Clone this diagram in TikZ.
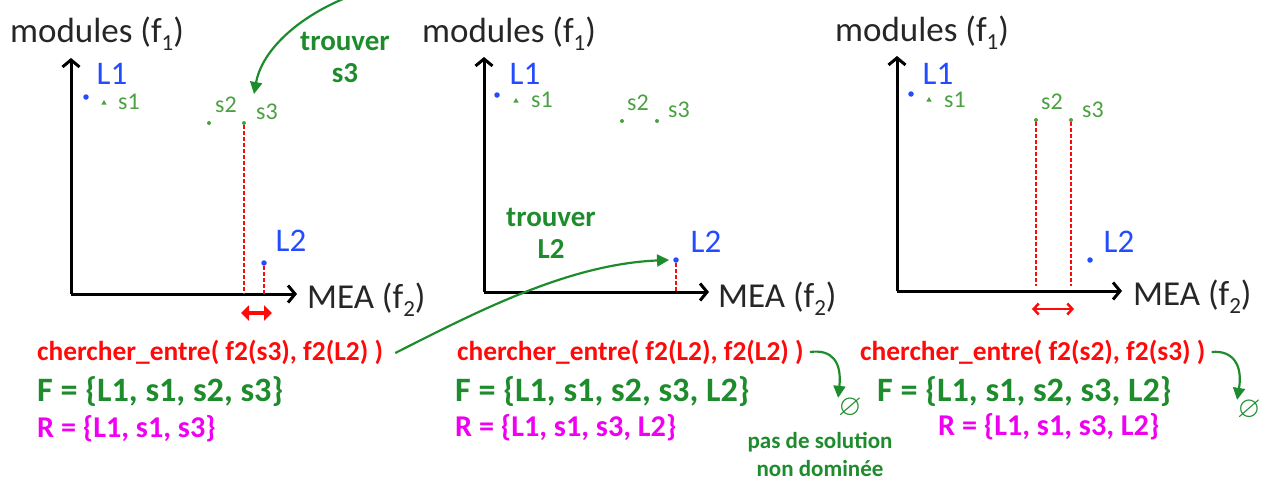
\documentclass[tikz,border=0pt]{standalone}
\usepackage{fontspec}
\setmainfont{Carlito}
\usepackage{amssymb}
\usepackage{graphicx}
\usetikzlibrary{arrows.meta,shapes.geometric}
\definecolor{myblue}{RGB}{35,75,255}
\definecolor{mygreen}{RGB}{30,140,45}
\definecolor{lgreen}{RGB}{75,160,65}
\definecolor{myred}{RGB}{255,10,10}
\definecolor{mymag}{RGB}{240,0,240}
\newcommand\sbs[1]{\raisebox{-8pt}{\fontsize{23}{23}\selectfont #1}}
\tikzset{
  axis/.style={line width=3pt,-{Straight Barb[length=7pt,width=17pt,line width=3pt]}},
  axlabel/.style={font=\fontsize{35}{38}\selectfont,text=black!85,inner sep=0,anchor=base west},
  bigL/.style={text=myblue,font=\fontsize{33}{36}\selectfont,inner sep=0},
  smallS/.style={text=lgreen,font=\fontsize{24}{26}\selectfont,inner sep=0},
  bdot/.style={circle,fill=myblue,minimum size=5.5pt,inner sep=0},
  gdot/.style={circle,fill=lgreen,minimum size=4pt,inner sep=0},
  gtri/.style={regular polygon,regular polygon sides=3,fill=lgreen,minimum size=6pt,inner sep=0},
  redtxt/.style={text=myred,font=\bfseries\fontsize{27.4}{30}\selectfont,inner sep=0,anchor=west},
  ftxt/.style={text=mygreen,font=\bfseries\fontsize{34.2}{36}\selectfont,inner sep=0,anchor=west},
  rtxt/.style={text=mymag,font=\bfseries\fontsize{30.2}{32}\selectfont,inner sep=0,anchor=west},
  gnote/.style={text=mygreen,font=\bfseries\fontsize{29}{32}\selectfont,inner sep=0,align=center},
  reddash/.style={myred,line width=1.5pt,dash pattern=on 4pt off 2pt},
  garrow/.style={mygreen,line width=2.2pt,-{Triangle[length=12pt,width=12pt]}},
  redarrow/.style={myred,line width=2.5pt,{Straight Barb[length=5pt,width=11pt,line width=2.5pt]}-{Straight Barb[length=5pt,width=11pt,line width=2.5pt]}},
  empt/.style={text=mygreen,inner sep=0,font=\fontsize{30}{30}\selectfont}
}
\begin{document}
\begin{tikzpicture}[x=1pt,y=-1pt]
\useasboundingbox (0,0) rectangle (1261,480);
% ---------- panel 1 ----------
\coordinate (O1) at (71,294);
\coordinate (Y1) at (71,58);
\coordinate (X1) at (297,294);
\draw[axis] (O1) -- (Y1);
\draw[axis] (O1) -- (X1);
\node[axlabel] (mod1) at (10,42) {modules (f\sbs{1})};
\node[axlabel] (mea1) at (307,308) {MEA (f\sbs{2})};
\node[bdot] (p1L1) at (86,97) {};
\node[gtri] (p1s1) at (104,103) {};
\node[gdot] (p1s2) at (209,123) {};
\node[gdot] (p1s3) at (244,123) {};
\node[bdot] (p1L2) at (264,263) {};
\node[bigL] (l1L1) at (112,74) {L1};
\node[smallS] (l1s1) at (129,102) {s1};
\node[smallS] (l1s2) at (226,105) {s2};
\node[smallS] (l1s3) at (267,112) {s3};
\node[bigL] (l1L2) at (291,241) {L2};
\draw[reddash] (p1s3) -- (p1s3 |- O1);
\draw[reddash] (p1L2) -- (p1L2 |- O1);
\coordinate (d1a) at (241,313);
\coordinate (d1b) at (272,313);
\draw[myred,line width=3.5pt,{Triangle[length=8pt,width=15pt]}-{Triangle[length=8pt,width=15pt]}] (d1a) -- (d1b);
\node[gnote] (tr1) at (345,57) {trouver\\s3};
\coordinate (top1) at (343,-1);
\draw[garrow] (top1) .. controls (298,18) and (262,50) .. ([xshift=10pt,yshift=29pt]p1s3.center);
\node[redtxt] (c1) at (37,352) {chercher\_entre( f2(s3), f2(L2) )};
\node[ftxt] (F1) at (37,392) {F = \{L1, s1, s2, s3\}};
\node[rtxt] (R1) at (37,429) {R = \{L1, s1, s3\}};
% ---------- panel 2 ----------
\coordinate (O2) at (484,292);
\coordinate (Y2) at (484,57);
\coordinate (X2) at (709,292);
\draw[axis] (O2) -- (Y2);
\draw[axis] (O2) -- (X2);
\node[axlabel] (mod2) at (422,42) {modules (f\sbs{1})};
\node[axlabel] (mea2) at (718,307) {MEA (f\sbs{2})};
\node[bdot] (p2L1) at (497,95) {};
\node[gtri] (p2s1) at (516,101) {};
\node[gdot] (p2s2) at (622,121) {};
\node[gdot] (p2s3) at (657,121) {};
\node[bdot] (p2L2) at (676,260) {};
\node[bigL] (l2L1) at (525,74) {L1};
\node[smallS] (l2s1) at (542,100) {s1};
\node[smallS] (l2s2) at (638,103) {s2};
\node[smallS] (l2s3) at (679,110) {s3};
\node[bigL] (l2L2) at (706,242) {L2};
\draw[reddash] (p2L2) -- (p2L2 |- O2);
\node[gnote] (tr2) at (551,233) {trouver\\L2};
\node[redtxt] (c2) at (457,352) {chercher\_entre( f2(L2), f2(L2) )};
\node[ftxt] (F2) at (455,392) {F = \{L1, s1, s2, s3, L2\}};
\node[rtxt] (R2) at (455,428) {R = \{L1, s1, s3, L2\}};
\draw[garrow] ([xshift=12pt,yshift=-1pt]c1.east) .. controls (480,310) and (570,264) .. ([xshift=-4pt]p2L2.west);
\node[empt] (e2) at (850,408) {$\varnothing$};
\draw[garrow] ([xshift=6pt]c2.east) .. controls (832,349) and (842,362) .. (e2.north west);
\node[gnote,font=\bfseries\fontsize{23}{28}\selectfont] (ps) at (820,454) {pas de solution\\non dominée};
% ---------- panel 3 ----------
\coordinate (O3) at (897,291);
\coordinate (Y3) at (897,56);
\coordinate (X3) at (1122,291);
\draw[axis] (O3) -- (Y3);
\draw[axis] (O3) -- (X3);
\node[axlabel] (mod3) at (835,41) {modules (f\sbs{1})};
\node[axlabel] (mea3) at (1133,305) {MEA (f\sbs{2})};
\node[bdot] (p3L1) at (911,94) {};
\node[gtri] (p3s1) at (929,100) {};
\node[gdot] (p3s2) at (1036,120) {};
\node[gdot] (p3s3) at (1071,120) {};
\node[bdot] (p3L2) at (1090,260) {};
\node[bigL] (l3L1) at (938,74) {L1};
\node[smallS] (l3s1) at (955,100) {s1};
\node[smallS] (l3s2) at (1052,102) {s2};
\node[smallS] (l3s3) at (1093,110) {s3};
\node[bigL] (l3L2) at (1119,242) {L2};
\coordinate (b3a) at (1036,286);
\coordinate (b3b) at (1071,286);
\draw[reddash] (p3s2) -- (b3a);
\draw[reddash] (p3s3) -- (b3b);
\coordinate (d3a) at (1032,309);
\coordinate (d3b) at (1074,309);
\draw[redarrow] (d3a) -- (d3b);
\node[redtxt] (c3) at (860,352) {chercher\_entre( f2(s2), f2(s3) )};
\node[ftxt] (F3) at (877,392) {F = \{L1, s1, s2, s3, L2\}};
\node[rtxt] (R3) at (938,427) {R = \{L1, s1, s3, L2\}};
\node[empt] (e3) at (1249,410) {$\varnothing$};
\draw[garrow] ([xshift=6pt]c3.east) .. controls (1232,350) and (1243,364) .. (e3.north west);
\end{tikzpicture}
\end{document}
